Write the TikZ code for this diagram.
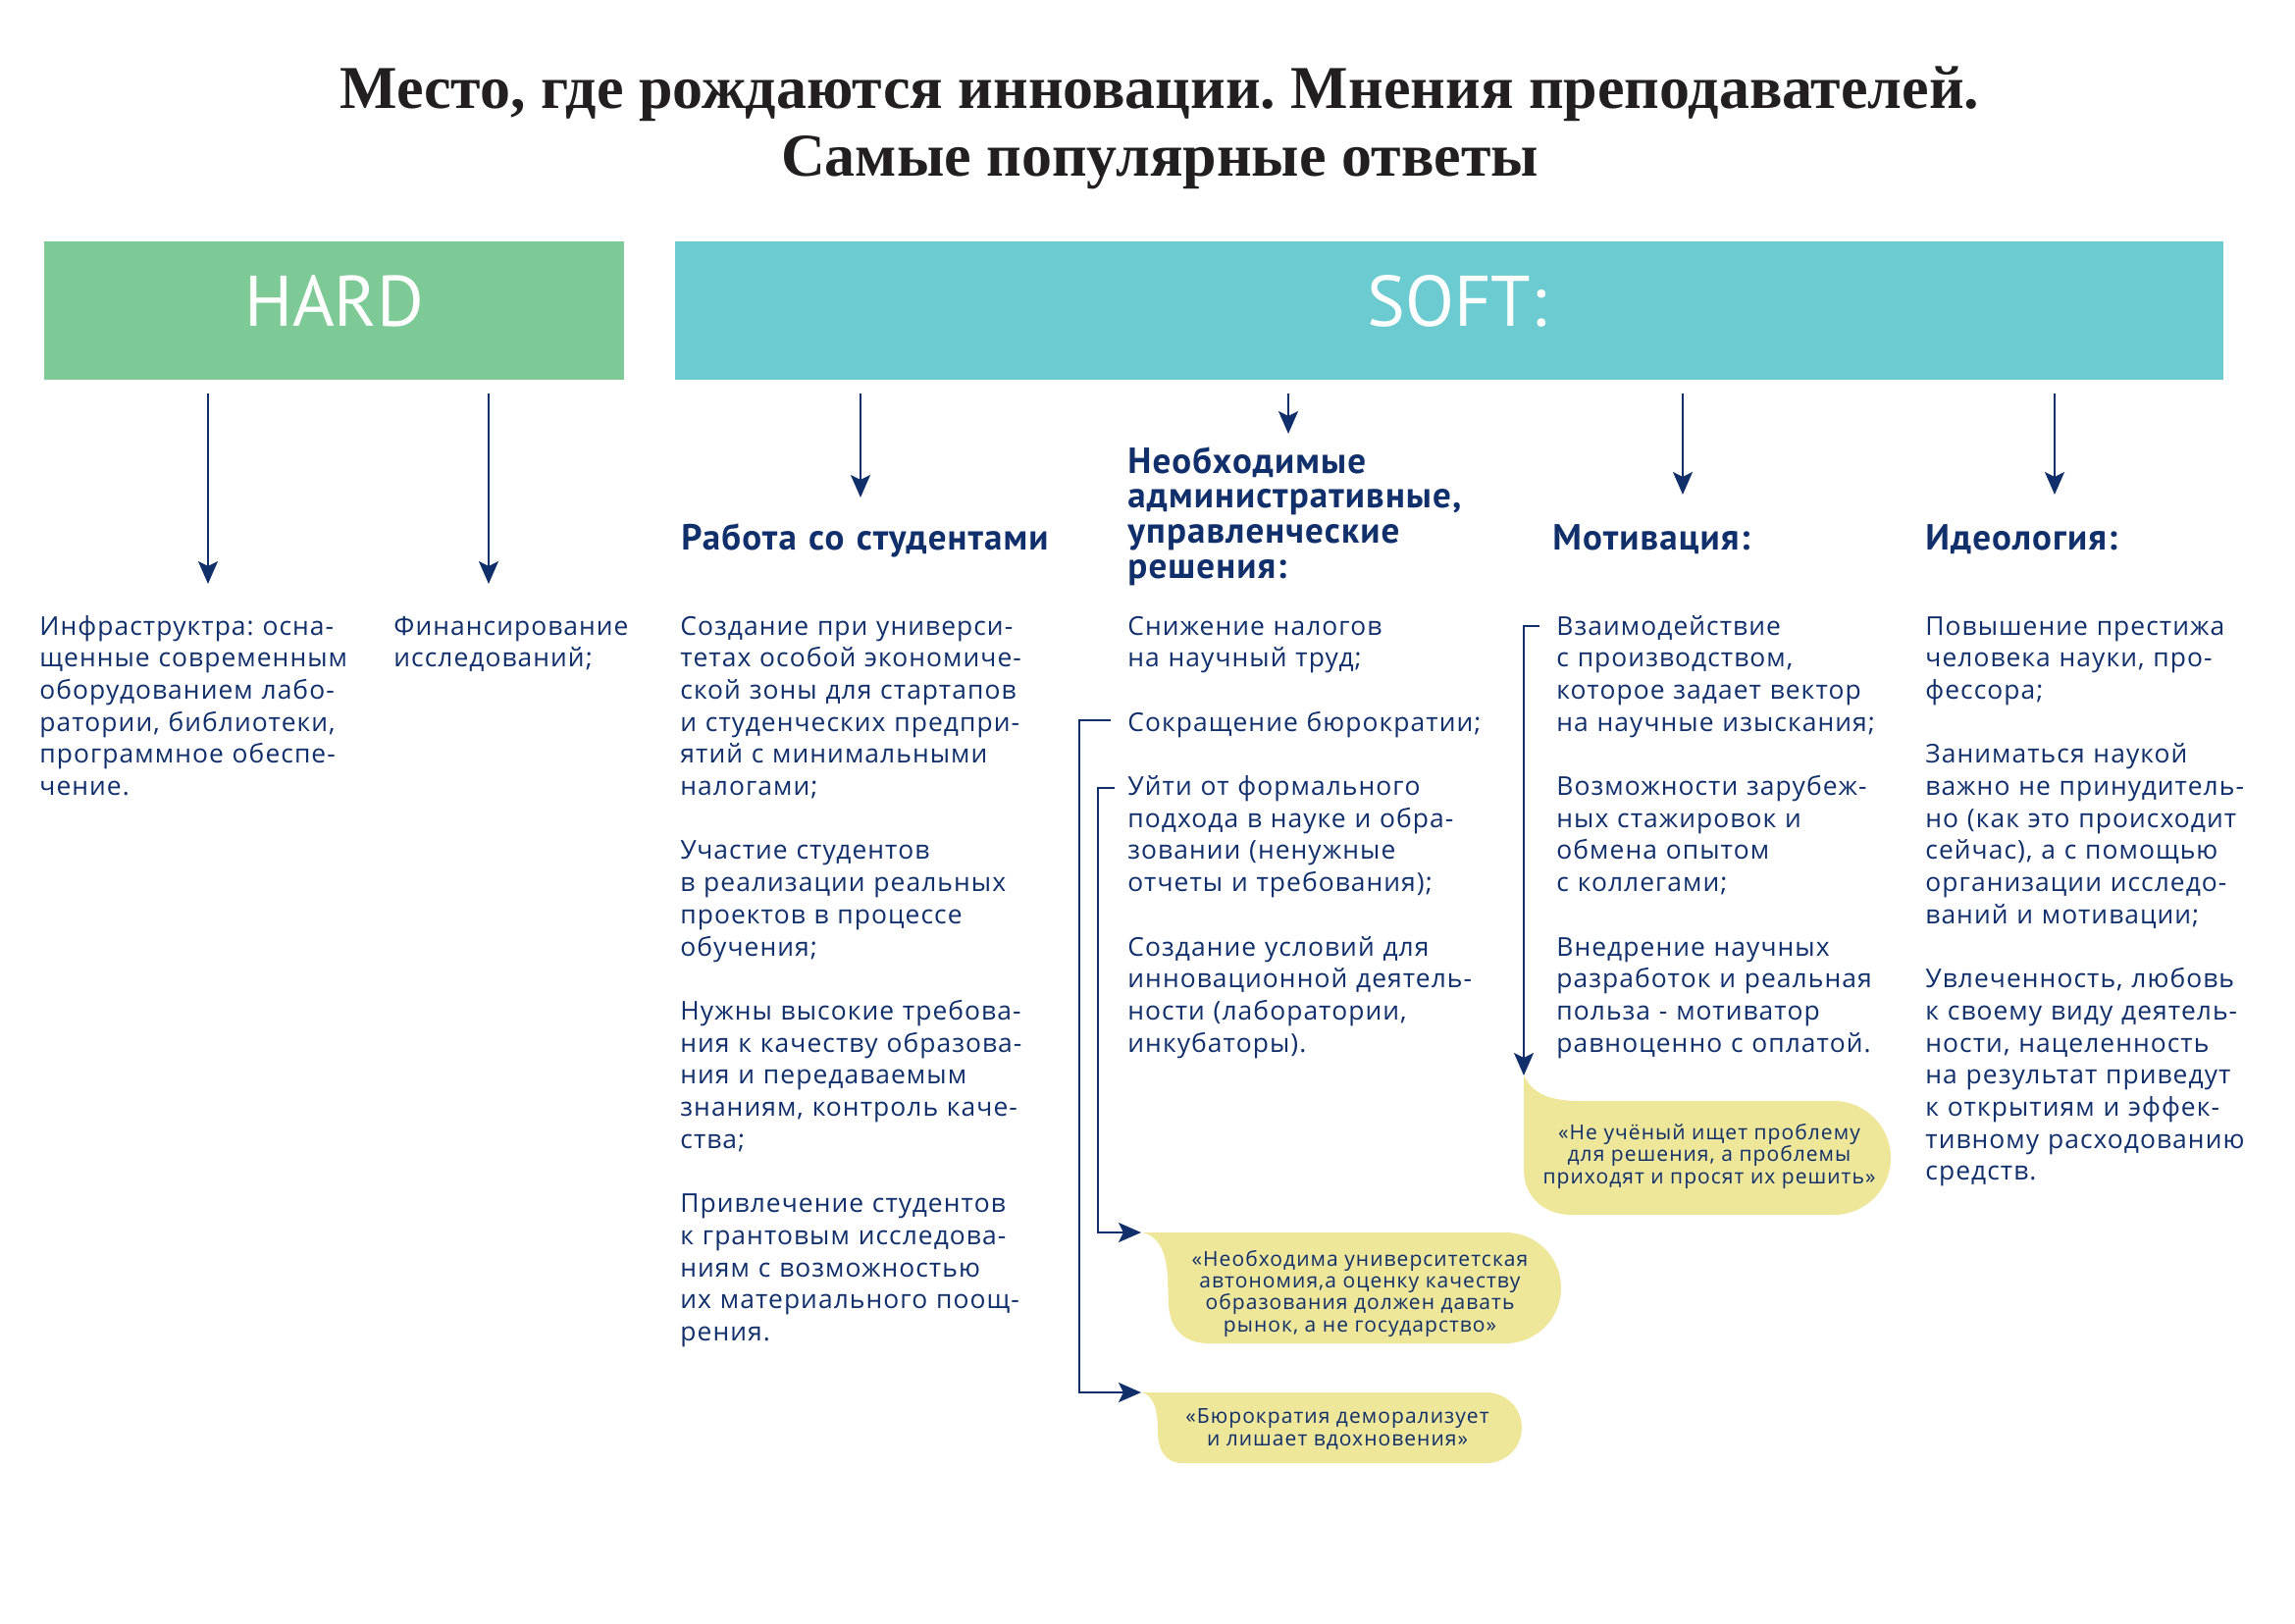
\documentclass[tikz,border=0pt]{standalone}
\usepackage{fontspec}
\usetikzlibrary{arrows.meta}
\frenchspacing
\newfontfamily\bodyf{Open Sans}[LetterSpace=4]
\newfontfamily\headf{PT Sans}[LetterSpace=3]
\newfontfamily\boxf{PT Sans}
\newfontfamily\titlef{Liberation Serif}
\newfontfamily\quotef{Open Sans}[LetterSpace=5]
\definecolor{navy}{RGB}{16,47,107}
\definecolor{hardgreen}{RGB}{126,202,150}
\definecolor{softteal}{RGB}{108,203,208}
\definecolor{quoteyellow}{RGB}{238,230,153}
\definecolor{titlec}{RGB}{35,31,32}
\tikzset{
  arr/.style={draw=navy, line width=1.1pt, -{Stealth[length=11.5pt,width=10pt,inset=2.5pt]}},
  catbox/.style={inner sep=0, text=white, font=\boxf\fontsize{36.5}{40}\selectfont,
                 text height=25.5pt, text depth=10pt},
  headtxt/.style={anchor=base west, inner sep=0, text width=240pt, align=left, text=navy,
                 font=\headf\bfseries\fontsize{18.5}{17.9}\selectfont},
  bodytxt/.style={anchor=base west, inner sep=0, text width=200pt, align=left, text=navy,
                 font=\bodyf\fontsize{13.2}{16.35}\selectfont},
  quotetxt/.style={anchor=base, inner sep=0, align=center, text=navy,
                 font=\quotef\fontsize{10.5}{11.1}\selectfont},
  bubble/.style={fill=quoteyellow, draw=none}
}
\begin{document}
\begin{tikzpicture}[x=0.5pt,y=-0.5pt]
\path[use as bounding box, fill=white] (0,0) rectangle (2339,1654);

% title (anchor base = last line)
\node[anchor=base, inner sep=0, align=center, text=titlec,
      font=\titlef\bfseries\fontsize{31}{34.5}\selectfont] (title) at (1182,179)
  {Место, где рождаются инновации. Мнения преподавателей.\\Самые популярные ответы};

% category boxes
\node[catbox, fill=hardgreen, minimum width=295.5pt, minimum height=70.5pt] (hard) at (340.5,316.5) {HARD};
\node[catbox, fill=softteal, minimum width=789pt, minimum height=70.5pt] (soft) at (1477,316.5) {SOFT\rlap{:}};

% headings
\node[headtxt] (h1) at (694,560) {Работа со студентами};
\node[headtxt] (h2) at (1149,482) {Необходимые\\административные,\\управленческие\\решения:};
\node[headtxt] (h3) at (1582,560) {Мотивация:};
\node[headtxt] (h4) at (1962,560) {Идеология:};

% body texts
\node[bodytxt] (infra) at (40,647) {Инфраструктра: осна-\\щенные современным\\оборудованием лабо-\\ратории, библиотеки,\\программное обеспе-\\чение.};
\node[bodytxt] (fin) at (401,647) {Финансирование\\исследований;};
\node[bodytxt] (stud) at (693,647) {Создание при универси-\\тетах особой экономиче-\\ской зоны для стартапов\\и студенческих предпри-\\ятий с минимальными\\налогами;\\[16.35pt]Участие студентов\\в реализации реальных\\проектов в процессе\\обучения;\\[16.35pt]Нужны высокие требова-\\ния к качеству образова-\\ния и передаваемым\\знаниям, контроль каче-\\ства;\\[16.35pt]Привлечение студентов\\к грантовым исследова-\\ниям с возможностью\\их материального поощ-\\рения.};
\node[bodytxt] (adm) at (1149,647) {Снижение налогов\\на научный труд;\\[16.35pt]Сокращение бюрократии;\\[16.35pt]Уйти от формального\\подхода в науке и обра-\\зовании (ненужные\\отчеты и требования);\\[16.35pt]Создание условий для\\инновационной деятель-\\ности (лаборатории,\\инкубаторы).};
\node[bodytxt] (mot) at (1586,647) {Взаимодействие\\с производством,\\которое задает вектор\\на научные изыскания;\\[16.35pt]Возможности зарубеж-\\ных стажировок и\\обмена опытом\\с коллегами;\\[16.35pt]Внедрение научных\\разработок и реальная\\польза - мотиватор\\равноценно с оплатой.};
\node[bodytxt] (ideo) at (1962,647) {Повышение престижа\\человека науки, про-\\фессора;\\[16.35pt]Заниматься наукой\\важно не принудитель-\\но (как это происходит\\сейчас), а с помощью\\организации исследо-\\ваний и мотивации;\\[16.35pt]Увлеченность, любовь\\к своему виду деятель-\\ности, нацеленность\\на результат приведут\\к открытиям и эффек-\\тивному расходованию\\средств.};

% arrow end points
\coordinate (e1) at (212,595);
\coordinate (e2) at (498,595);
\coordinate (e3) at (877,507);
\coordinate (e4) at (1313,442);
\coordinate (e5) at (1715,504);
\coordinate (e6) at (2094,504);
\draw[arr, shorten <=7pt] (hard.south -| e1) -- (e1);
\draw[arr, shorten <=7pt] (hard.south -| e2) -- (e2);
\draw[arr, shorten <=7pt] (soft.south -| e3) -- (e3);
\draw[arr, shorten <=7pt] (soft.south -| e4) -- (e4);
\draw[arr, shorten <=7pt] (soft.south -| e5) -- (e5);
\draw[arr, shorten <=7pt] (soft.south -| e6) -- (e6);

% quote bubbles
\fill[bubble] (1163,1256) -- (1534.5,1256)
  .. controls (1565.7,1256) and (1591,1281.3) .. (1591,1312.5)
  .. controls (1591,1343.7) and (1565.7,1369) .. (1534.5,1369)
  -- (1232,1369) .. controls (1205,1369) and (1191,1352) .. (1191,1327)
  -- (1190,1302) .. controls (1189,1274) and (1179,1258) .. (1163,1256) -- cycle;
\fill[bubble] (1163,1419) -- (1515,1419)
  .. controls (1534.9,1419) and (1551,1435.1) .. (1551,1455)
  .. controls (1551,1474.9) and (1534.9,1491) .. (1515,1491)
  -- (1205,1491) .. controls (1188,1491) and (1180,1478) .. (1180,1458)
  .. controls (1180,1435) and (1175,1421) .. (1163,1419) -- cycle;
\fill[bubble] (1553,1096) .. controls (1562,1114) and (1578,1122) .. (1610,1122)
  -- (1869,1122)
  .. controls (1901,1122) and (1927,1148) .. (1927,1180)
  .. controls (1927,1212) and (1901,1238) .. (1869,1238)
  -- (1602,1238) .. controls (1574,1238) and (1553,1220) .. (1553,1192) -- cycle;

% quote texts (anchor base = last line)
\node[quotetxt] (q1) at (1386,1357) {«Необходима университетская\\автономия,а оценку качеству\\образования должен давать\\рынок, а не государство»};
\node[quotetxt] (q2) at (1363,1473) {«Бюрократия деморализует\\и лишает вдохновения»};
\node[quotetxt] (q3) at (1742,1206) {«Не учёный ищет проблему\\для решения, а проблемы\\приходят и просят их решить»};

% brackets with arrows to quotes
\coordinate (b1) at (1132,734);
\coordinate (b2) at (1136,803);
\coordinate (b3) at (1569,638);
\coordinate (t1) at (1163,1256);
\coordinate (t2) at (1163,1419);
\coordinate (t3) at (1553,1096);
\draw[arr] (b1) -- ++(-32,0) |- (t2);
\draw[arr] (b2) -- ++(-17,0) |- (t1);
\draw[arr] (b3) -| (t3);
\end{tikzpicture}
\end{document}
